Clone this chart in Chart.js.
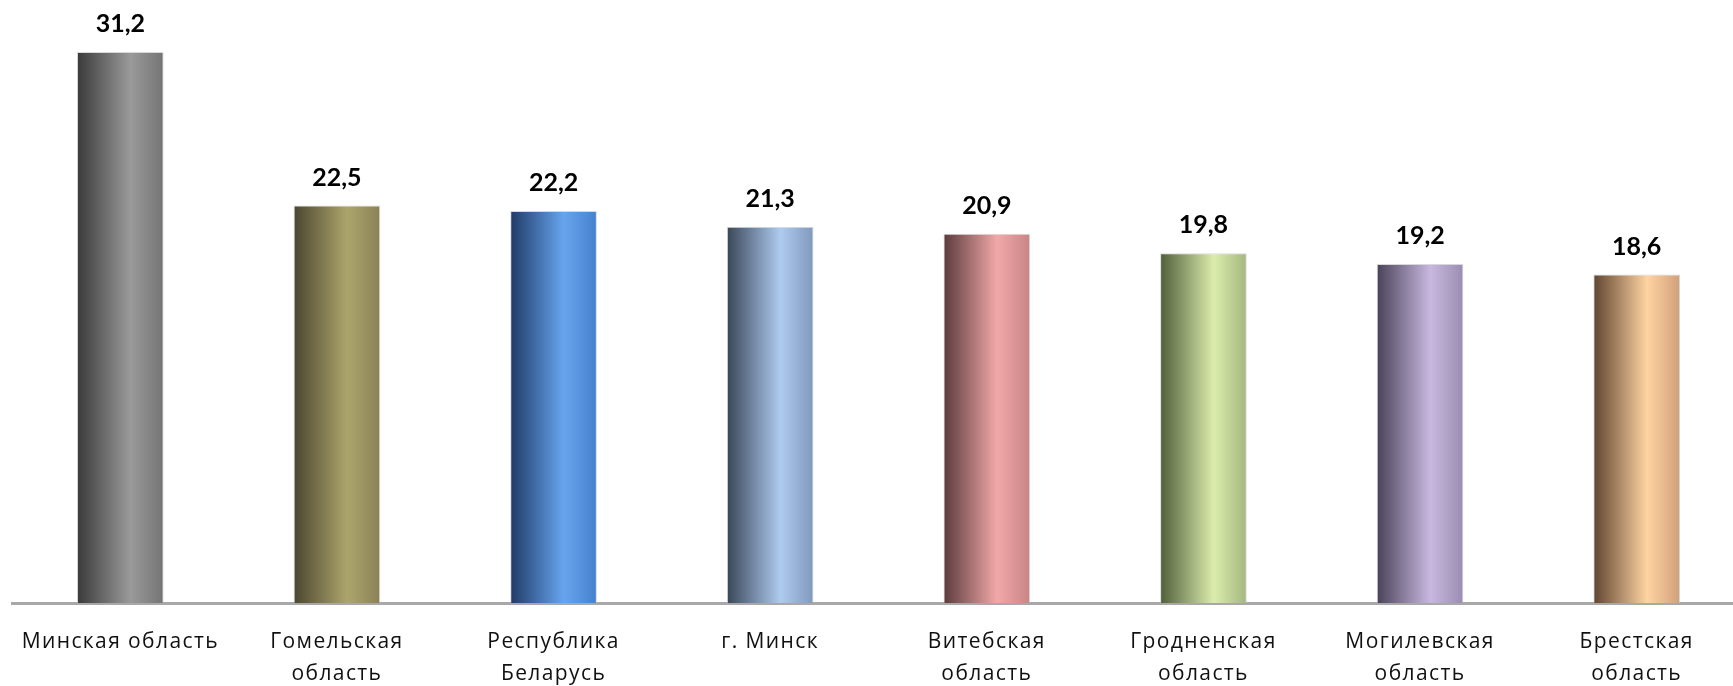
<!DOCTYPE html>
<html>
<head>
<meta charset="utf-8">
<script src="https://cdn.jsdelivr.net/npm/chart.js@4"></script>
<style>
  html, body { margin: 0; padding: 0; background: #fff; overflow: hidden; }
  #wrap { width: 1746px; height: 686px; }
</style>
</head>
<body>
<div id="wrap"><canvas id="regionChart" width="1746" height="686"></canvas></div>
<script>
// === regionChart ===
const regions = [
  "Минская область",
  ["Гомельская", "область"],
  ["Республика", "Беларусь"],
  "г. Минск",
  ["Витебская", "область"],
  ["Гродненская", "область"],
  ["Могилевская", "область"],
  ["Брестская", "область"]
];
const values = [31.2, 22.5, 22.2, 21.3, 20.9, 19.8, 19.2, 18.6];

// dark edge / highlight / right edge for each cylinder-style bar
const shadeDark = ["#3a3a3a", "#4a4630", "#1f3a66", "#3a4658", "#5a3a3c", "#4f5e3a", "#4a4258", "#5e4430"];
const shadeLight = ["#9a9a9a", "#ada46c", "#68a4ee", "#aecbf0", "#f2a8a8", "#dcecac", "#c8b8e0", "#ffd3a2"];
const shadeRight = ["#747474", "#8a8256", "#4580cc", "#8098bc", "#c88486", "#a4b680", "#9a8cb0", "#d0a078"];

const BAR_PCT = 0.4;

function barGradient(context) {
  const chart = context.chart;
  const i = context.dataIndex;
  const xs = chart.scales.x;
  if (!chart.chartArea || !xs || i === undefined) return shadeLight[i || 0];
  const cx = xs.getPixelForTick(i);
  const w = (xs.width / regions.length) * BAR_PCT;
  const g = chart.ctx.createLinearGradient(cx - w / 2, 0, cx + w / 2, 0);
  g.addColorStop(0, shadeDark[i]);
  g.addColorStop(0.62, shadeLight[i]);
  g.addColorStop(1, shadeRight[i]);
  return g;
}

// a bit of tracking on the axis captions
const wideText = {
  id: "wideText",
  beforeDraw(chart) { chart.ctx.letterSpacing = "1.4px"; },
  afterDraw(chart) { chart.ctx.letterSpacing = "0px"; }
};

// value labels above the bars, comma as decimal separator
const valueLabels = {
  id: "valueLabels",
  afterDatasetsDraw(chart) {
    const ctx = chart.ctx;
    const meta = chart.getDatasetMeta(0);
    ctx.save();
    ctx.letterSpacing = "0px";
    ctx.font = "bold 25px Lato";
    ctx.fillStyle = "#000";
    ctx.textAlign = "center";
    ctx.textBaseline = "middle";
    meta.data.forEach((bar, i) => {
      const txt = values[i].toFixed(1).replace(".", ",");
      ctx.fillText(txt, bar.x, bar.y - 28);
    });
    ctx.restore();
  }
};

new Chart(document.getElementById("regionChart"), {
  type: "bar",
  data: {
    labels: regions,
    datasets: [{
      data: values,
      backgroundColor: barGradient,
      borderColor: "rgba(200,200,200,0.7)",
      borderWidth: { left: 1, right: 1, top: 1, bottom: 0 },
      barPercentage: BAR_PCT,
      categoryPercentage: 1
    }]
  },
  options: {
    responsive: false,
    animation: false,
    layout: { padding: { left: 12, right: 1, top: 0, bottom: 0 } },
    plugins: { legend: { display: false }, tooltip: { enabled: false } },
    scales: {
      y: { display: false, min: 0, max: 34.14 },
      x: {
        grid: { display: false, drawTicks: false },
        border: { display: true, color: "#a8a8a8", width: 3 },
        ticks: {
          color: "#111",
          padding: 23,
          maxRotation: 0,
          autoSkip: false,
          font: { family: "Open Sans", size: 21, lineHeight: 1.52 }
        },
        afterFit(scale) { scale.height = 83; }
      }
    }
  },
  plugins: [wideText, valueLabels]
});
</script>
</body>
</html>
